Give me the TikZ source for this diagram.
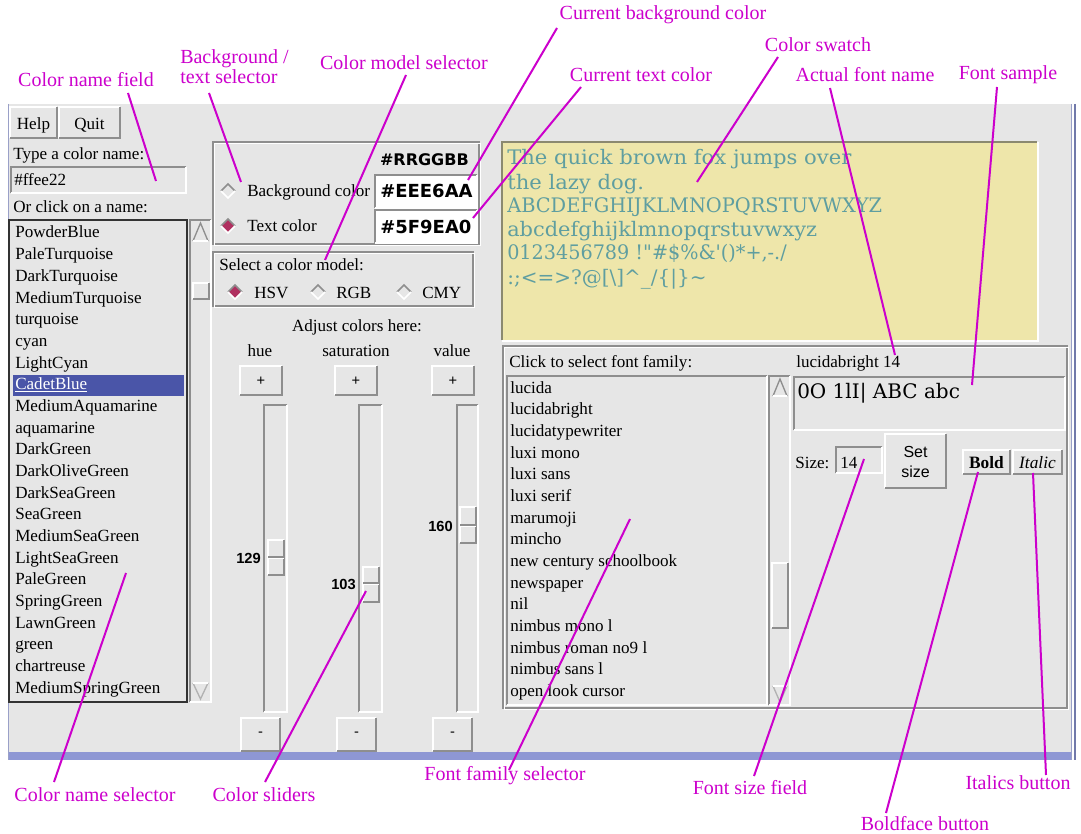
\documentclass[tikz,border=0pt]{standalone}
\usepackage{fontspec}
\setmainfont{Liberation Serif}
\newfontfamily\uisansf{Liberation Sans}
\newfontfamily\djsansf{DejaVu Sans}
\newfontfamily\djseriff{DejaVu Serif}
\definecolor{uibg}{HTML}{E6E6E6}
\definecolor{uidark}{HTML}{8E8E8E}
\definecolor{uilite}{HTML}{FFFFFF}
\definecolor{uiblue}{HTML}{8E97D4}
\definecolor{uiedge}{HTML}{9AA0C8}
\definecolor{mag}{HTML}{CC00CC}
\definecolor{selblue}{HTML}{4A55A8}
\definecolor{radiosel}{HTML}{B03060}
\definecolor{swbg}{HTML}{EEE6AA}
\definecolor{swtx}{HTML}{5F9EA0}
\definecolor{swedge}{HTML}{8B8970}
% raised box: x1 y1 x2 y2
\newcommand\uiraised[4]{%
  \fill[uibg] (#1,#2) rectangle (#3,#4);
  \draw[uilite,line width=1.5pt] (#1,#4) -- (#1,#2) -- (#3,#2);
  \draw[uidark,line width=1.5pt] (#1,#4) -- (#3,#4) -- (#3,#2);}
% sunken box: x1 y1 x2 y2 fill
\newcommand\uisunken[5]{%
  \fill[#5] (#1,#2) rectangle (#3,#4);
  \draw[uidark,line width=1.5pt] (#1,#4) -- (#1,#2) -- (#3,#2);
  \draw[uilite,line width=1.5pt] (#1,#4) -- (#3,#4) -- (#3,#2);}
% groove frame
\newcommand\uigroove[4]{%
  \draw[uidark,line width=1pt] (#1,#2) rectangle (#3,#4);
  \draw[uilite,line width=1pt] ({#1+1.5},{#2+1.5}) rectangle ({#3+1.5},{#4+1.5});}
% radio diamond: cx cy fill
\newcommand\uiradio[3]{%
  \fill[#3] ({#1-7},#2) -- (#1,{#2-7}) -- ({#1+7},#2) -- (#1,{#2+7}) -- cycle;
  \draw[uidark,line width=1.2pt] ({#1-7},#2) -- (#1,{#2-7}) -- ({#1+7},#2);
  \draw[uilite,line width=1.2pt] ({#1-7},#2) -- (#1,{#2+7}) -- ({#1+7},#2);}
% slider thumb
\newcommand\uithumb[5]{%
  \uiraised{#1}{#2}{#3}{#4}
  \draw[uidark,line width=0.8pt] (#1,#5) -- (#3,#5);
  \draw[uilite,line width=0.8pt] (#1,{#5+1.5}) -- (#3,{#5+1.5});}
% scroll arrows
\newcommand\uiup[4]{%
  \draw[uidark,line width=1pt] ({#1+1},{#4-1}) -- ({(#1+#3)/2},{#2+1}) -- ({#3-1},{#4-1});
  \draw[uilite,line width=1pt] ({#1+1},{#4-1}) -- ({#3-1},{#4-1});}
\newcommand\uidown[4]{%
  \draw[black!30,line width=1pt] ({#1+1},{#2+1}) -- ({(#1+#3)/2},{#4-1}) -- ({#3-1},{#2+1});
  \draw[uilite,line width=1pt] ({#1+1},{#2+1}) -- ({#3-1},{#2+1});}
\begin{document}
\begin{tikzpicture}[x=0.75pt,y=-0.75pt,
  ui/.style={font=\fontsize{12.8}{15}\selectfont,inner sep=0pt,anchor=base west},
  uic/.style={font=\fontsize{12.8}{15}\selectfont,inner sep=0pt,anchor=base},
  num/.style={font=\uisansf\bfseries\fontsize{11}{13}\selectfont,inner sep=0pt,anchor=base east},
  pm/.style={font=\uisansf\fontsize{11}{13}\selectfont,inner sep=0pt},
  hexbig/.style={font=\djsansf\bfseries\fontsize{13.5}{16}\selectfont,inner sep=0pt,anchor=base west},
  sw/.style={font=\djseriff\fontsize{15}{18}\selectfont,text=swtx,inner sep=0pt,anchor=base west},
  lbl/.style={text=mag,font=\fontsize{15}{15}\selectfont,inner sep=0pt,align=center},
  callout/.style={draw=mag,line width=1.5pt}]
\useasboundingbox (0,0) rectangle (1081,834);
\fill[white] (0,0) rectangle (1081,834);
% window
\fill[uibg] (8,104) rectangle (1071,760);
\fill[uiblue] (8,752) rectangle (1071,760);
\draw[uiedge,line width=1pt] (8.5,104) -- (8.5,760);
\draw[uiedge,line width=1pt] (1071.5,104) -- (1071.5,760);
\draw[uiblue!80!black,line width=1pt] (1075,104) -- (1075,760);
% ---- left column
\uiraised{10}{107}{57}{138}
\node[uic] (help) at (33.5,130) {Help};
\uiraised{59}{107}{120}{138}
\node[uic] (quit) at (89.5,130) {Quit};
\node[ui] (typename) at (13,160) {Type a color name:};
\uisunken{11}{167}{186}{193}{uibg}
\node[ui] (namefield) at (14,186) {\#ffee22};
\node[ui] (orclick) at (13,213) {Or click on a name:};
\fill[uibg] (9,220) rectangle (187,702);
\draw[black!80,line width=1.5pt] (9,220) rectangle (187,702);
\fill[selblue] (13,375) rectangle (184,396);
\foreach \t [count=\i from 0] in {PowderBlue,PaleTurquoise,DarkTurquoise,MediumTurquoise,turquoise,cyan,LightCyan}
  \node[ui] (cl\i) at (15,{238+21.67*\i}) {\t};
\node[ui,text=white] (cl7) at (15,{238+21.67*7}) {\underline{CadetBlue}};
\foreach \t [count=\i from 8] in {MediumAquamarine,aquamarine,DarkGreen,DarkOliveGreen,DarkSeaGreen,SeaGreen,MediumSeaGreen,LightSeaGreen,PaleGreen,SpringGreen,LawnGreen,green,chartreuse,MediumSpringGreen}
  \node[ui] (cl\i) at (15,{238+21.67*\i}) {\t};
\uisunken{190}{220}{211}{702}{uibg}
\uiup{192}{222}{209}{242}
\uiraised{193}{283}{209}{299}
\uidown{192}{682}{209}{700}
% ---- middle column
\uigroove{213}{142}{479}{244}
\node[hexbig,font=\djsansf\bfseries\fontsize{12}{14}\selectfont,anchor=base east] (rrggbb) at (469,166) {\#RRGGBB};
\uiradio{228}{191}{uibg}
\node[ui] (bgcol) at (247,197) {Background color};
\uisunken{375}{175}{477}{208}{white}
\node[hexbig] (bghex) at (380,198) {\#EEE6AA};
\uiradio{228}{226}{radiosel}
\node[ui] (txcol) at (247,232) {Text color};
\uisunken{375}{210}{477}{243}{white}
\node[hexbig] (txhex) at (380,234) {\#5F9EA0};
\uigroove{213}{252}{473}{306}
\node[ui] (selmodel) at (219,271) {Select a color model:};
\uiradio{235}{292}{radiosel}
\node[ui] (hsv) at (254,298) {HSV};
\uiradio{318}{292}{uibg}
\node[ui] (rgb) at (336,298) {RGB};
\uiradio{404}{292}{uibg}
\node[ui] (cmy) at (422,298) {CMY};
\node[uic] (adjust) at (357,331) {Adjust colors here:};
\node[uic] (hue) at (260,356) {hue};
\node[uic] (sat) at (356,356) {saturation};
\node[uic] (val) at (452,356) {value};
\uiraised{240}{366}{282}{395}
\node[pm] (hplus) at (261,381) {+};
\uiraised{335}{366}{377}{395}
\node[pm] (splus) at (356,381) {+};
\uiraised{432}{366}{474}{395}
\node[pm] (vplus) at (453,381) {+};
\uisunken{264}{405}{287}{712}{uibg}
\uisunken{359}{405}{382}{712}{uibg}
\uisunken{457}{405}{478}{712}{uibg}
\uithumb{268}{540}{284}{575}{557}
\uithumb{363}{567}{379}{602}{583}
\uithumb{460}{507}{476}{543}{525}
\node[num] (hnum) at (261,563) {129};
\node[num] (snum) at (356,589) {103};
\node[num] (vnum) at (453,531) {160};
\uiraised{241}{718}{280}{751}
\node[pm] (hminus) at (260.5,734) {-};
\uiraised{337}{718}{376}{751}
\node[pm] (sminus) at (356.5,734) {-};
\uiraised{433}{718}{472}{751}
\node[pm] (vminus) at (452.5,734) {-};
% ---- swatch
\fill[swbg] (502,142) rectangle (1037,340);
\draw[swedge,line width=2pt] (502,340) -- (502,142) -- (1037,142);
\draw[white,line width=2pt] (502,341) -- (1038,341) -- (1038,142);
\node[sw] (sw1) at (507,165) {\scalebox{1.055}[1]{The quick brown fox jumps over}};
\node[sw] (sw2) at (507,190) {\scalebox{1.055}[1]{the lazy dog.}};
\node[sw] (sw3) at (507,213) {\scalebox{0.97}[1]{ABCDEFGHIJKLMNOPQRSTUVWXYZ}};
\node[sw] (sw4) at (507,237) {\scalebox{1.045}[1]{abcdefghijklmnopqrstuvwxyz}};
\node[sw] (sw5) at (507,260) {\scalebox{0.96}[1]{0123456789 !"\#\$\%\&'()*+,-./}};
\node[sw] (sw6) at (507,285) {:;<=>?@[\textbackslash]\textasciicircum\_/\{|\}\textasciitilde};
% ---- font panel
\uigroove{503}{346}{1067}{708}
\node[ui] (clickfont) at (509,367) {Click to select font family:};
\node[ui] (fontname) at (796,367) {lucidabright 14};
\uisunken{507}{376}{767}{705}{uibg}
\foreach \t [count=\i from 0] in {lucida,lucidabright,lucidatypewriter,luxi mono,luxi sans,luxi serif,marumoji,mincho,new century schoolbook,newspaper,nil,nimbus mono l,nimbus roman no9 l,nimbus sans l,open look cursor}
  \node[ui] (fl\i) at (510,{393+21.67*\i}) {\t};
\uisunken{769}{376}{790}{705}{uibg}
\uiup{772}{378}{788}{397}
\uiraised{772}{563}{788}{628}
\uidown{772}{685}{788}{703}
\uisunken{794}{377}{1065}{430}{uibg}
\node[sw,text=black] (sample) at (797,398) {0O 1lI| ABC abc};
\node[ui] (sizelbl) at (795,468) {Size:};
\uisunken{836}{447}{882}{473}{uibg}
\node[ui] (sizeval) at (840,468) {14};
\uiraised{885}{434}{946}{488}
\node[uic,font=\uisansf\fontsize{12}{14}\selectfont] (setl1) at (915.5,457) {Set};
\node[uic,font=\uisansf\fontsize{12}{14}\selectfont] (setl2) at (915.5,477) {size};
\uiraised{963}{450}{1010}{474}
\node[uic,font=\bfseries\fontsize{13}{15}\selectfont] (boldb) at (986.5,468) {Bold};
\uiraised{1013}{450}{1062}{474}
\node[uic,font=\itshape\fontsize{13}{15}\selectfont] (italb) at (1037.5,468) {Italic};
% ---- callout labels
\node[lbl] (cnf) at (86,80) {Color name field};
\node[lbl,align=left,anchor=west] (bts) at (180,67) {Background /\\text selector};
\node[lbl] (cms) at (404,63) {Color model selector};
\node[lbl] (cbc) at (663,15) {Current background color};
\node[lbl] (ctc) at (641,75) {Current text color};
\node[lbl] (csw) at (818,45) {Color swatch};
\node[lbl] (afn) at (865,75) {Actual font name};
\node[lbl] (fsm) at (1008,75) {Font sample};
\node[lbl] (cns) at (95,795) {Color name selector};
\node[lbl] (csl) at (264,795) {Color sliders};
\node[lbl] (ffs) at (505,776) {Font family selector};
\node[lbl] (fsf) at (750,788) {Font size field};
\node[lbl] (bfb) at (925,824) {Boldface button};
\node[lbl] (itb) at (1018,783) {Italics button};
% callout end points
\coordinate (cnfA) at (128,93);   \coordinate (cnfB) at (156,181);
\coordinate (btsA) at (209,93);   \coordinate (btsB) at (241,182);
\coordinate (cmsA) at (406,75);   \coordinate (cmsB) at (325,260);
\coordinate (cbcA) at (557,28);   \coordinate (cbcB) at (468,180);
\coordinate (ctcA) at (581,87);   \coordinate (ctcB) at (473,218);
\coordinate (cswA) at (778,57);   \coordinate (cswB) at (697,182);
\coordinate (afnA) at (830,88);   \coordinate (afnB) at (895,355);
\coordinate (fsmA) at (997,87);   \coordinate (fsmB) at (972,385);
\coordinate (cnsA) at (54,782);   \coordinate (cnsB) at (126,573);
\coordinate (cslA) at (265,782);  \coordinate (cslB) at (366,591);
\coordinate (ffsA) at (509,770);  \coordinate (ffsB) at (630,519);
\coordinate (fsfA) at (754,776);  \coordinate (fsfB) at (864,459);
\coordinate (bfbA) at (886,813);  \coordinate (bfbB) at (978,472);
\coordinate (itbA) at (1046,775); \coordinate (itbB) at (1033,473);
\foreach \c in {cnf,bts,cms,cbc,ctc,csw,afn,fsm,cns,csl,ffs,fsf,bfb,itb}
  \draw[callout] (\c A) -- (\c B);
\end{tikzpicture}
\end{document}
